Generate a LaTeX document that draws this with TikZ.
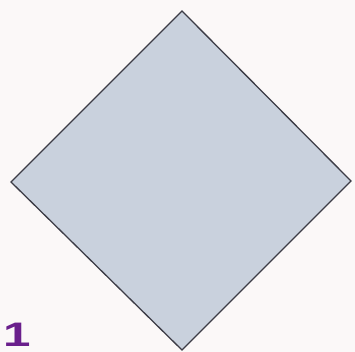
\documentclass[tikz,border=0pt]{standalone}
\usepackage{fontspec}
\setmainfont{Liberation Sans}
\definecolor{bgpaper}{HTML}{FBF8F8}
\definecolor{tilefill}{HTML}{C9D1DD}
\definecolor{tileedge}{HTML}{3C3C46}
\definecolor{numpurple}{HTML}{6A1F8C}
\tikzset{tile/.style={draw=tileedge,fill=tilefill,line width=1.3pt,line join=miter}}
\begin{document}
\begin{tikzpicture}[x=1pt,y=-1pt]
\fill[bgpaper] (0,0) rectangle (355,352);
\useasboundingbox (0,0) rectangle (355,352);
\coordinate (t) at (182,11);
\coordinate (r) at (351,181);
\coordinate (b) at (182,350);
\coordinate (l) at (11,182);
\draw[tile] (t) -- (r) -- (b) -- (l) -- cycle;
\node[anchor=base west,inner sep=0pt,text=numpurple,font=\fontsize{34}{34}\selectfont\bfseries] (n) at (3,346) {\scalebox{1.45}[1]{1}};
\end{tikzpicture}
\end{document}
